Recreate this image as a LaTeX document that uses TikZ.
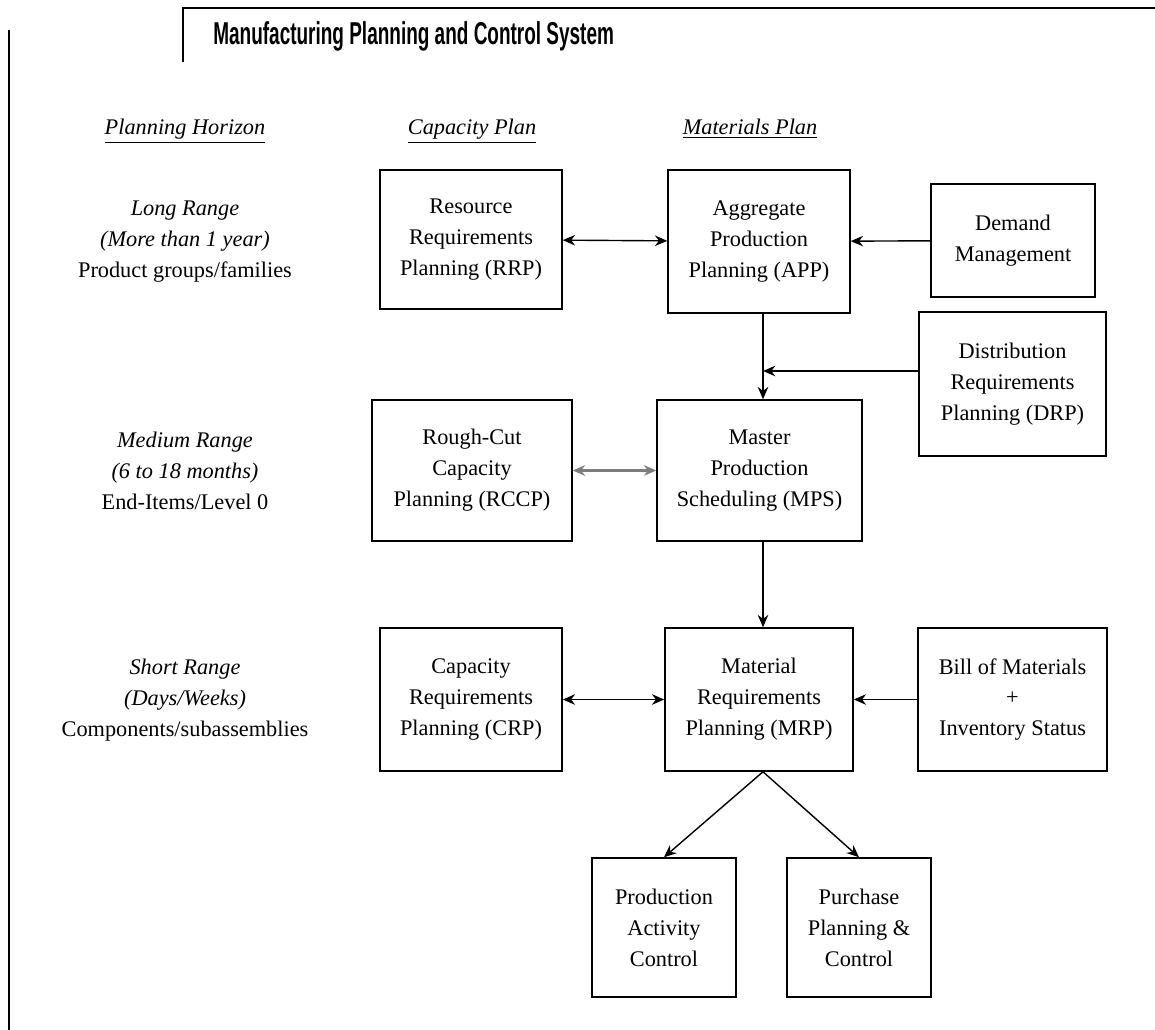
\documentclass[tikz,border=0pt]{standalone}
\usepackage{fontspec}
\setmainfont{Liberation Serif}
\setsansfont{Liberation Sans}
\usetikzlibrary{arrows, arrows.meta, positioning}
\definecolor{grisito}{RGB}{125,125,125}
\newcommand{\textoletra}{\fontsize{12.7}{17.6}\selectfont}
\tikzset{>={Stealth[length=7pt, width=6pt]}}
\tikzset{caja/.style={draw, line width=0.9pt, align=center, inner sep=1pt, font=\textoletra},
	horizonte/.style={align=center, font=\textoletra},
	flecha/.style={->, line width=0.8pt},
	dobleflecha/.style={<->, line width=0.8pt}}

\begin{document}
\begin{tikzpicture}[x=0.02cm, y=-0.02cm]

			\useasboundingbox (0,0) rectangle (1155,1030);

			% marco
			\draw [line width=1.2pt] (183,62) -- (183,8) -- (1155,8);
			\draw [line width=1.3pt] (9,30) -- (9,1030);
			\node [anchor=west, inner sep=0pt] (titulo) at (213,36)
				{\scalebox{0.6}[1]{\fontsize{18}{20}\sffamily\bfseries Manufacturing Planning and Control System}};

			% encabezados
			\node [horizonte, anchor=base] (hPlan) at (185,135) {\underline{\textit{Planning Horizon}}};
			\node [horizonte, anchor=base] (hCap) at (472,135) {\underline{\textit{Capacity Plan}}};
			\node [horizonte, anchor=base] (hMat) at (750,135) {\underline{\textit{Materials Plan}}};

			\node [horizonte] (largo) at (185,242) {\textit{Long Range}\\\textit{(More than 1 year)}\\Product groups/families};
			\node [horizonte] (medio) at (185,471) {\textit{Medium Range}\\\textit{(6 to 18 months)}\\End-Items/Level 0};
			\node [horizonte] (corto) at (185,700) {\textit{Short Range}\\\textit{(Days/Weeks)}\\Components/subassemblies};

			% cajas
			\node [caja, minimum width=3.64cm, minimum height=2.78cm] (rrp) at (471,239.5) {Resource\\Requirements\\Planning (RRP)};
			\node [caja, minimum width=3.64cm, minimum height=2.86cm] (app) at (759,241.5) {Aggregate\\Production\\Planning (APP)};
			\node [caja, minimum width=3.28cm, minimum height=2.26cm] (dem) at (1013,240.5) {Demand\\Management};
			\node [caja, minimum width=3.74cm, minimum height=2.88cm] (drp) at (1012.5,384) {Distribution\\Requirements\\Planning (DRP)};
			\node [caja, minimum width=4.0cm, minimum height=2.82cm] (rccp) at (472,470.5) {Rough-Cut\\Capacity\\Planning (RCCP)};
			\node [caja, minimum width=4.1cm, minimum height=2.82cm] (mps) at (759.5,470.5) {Master\\Production\\Scheduling (MPS)};
			\node [caja, minimum width=3.64cm, minimum height=2.86cm] (crp) at (471,699.5) {Capacity\\Requirements\\Planning (CRP)};
			\node [caja, minimum width=3.76cm, minimum height=2.86cm] (mrp) at (759,699.5) {Material\\Requirements\\Planning (MRP)};
			\node [caja, minimum width=3.78cm, minimum height=2.86cm] (bom) at (1012.5,699.5) {Bill of Materials\\+\\Inventory Status};
			\node [caja, minimum width=2.88cm, minimum height=2.78cm] (pac) at (664,927.5) {Production\\Activity\\Control};
			\node [caja, minimum width=2.88cm, minimum height=2.78cm] (ppc) at (859,927.5) {Purchase\\Planning \&\\Control};

			% flechas
			\coordinate (union) at (763,371);
			\draw [dobleflecha] (rrp) -- (app);
			\draw [flecha] (dem) -- (app);
			\draw [flecha] (app.south -| union) -- (mps.north -| union);
			\draw [flecha] (drp.west |- union) -- (union);
			\draw [dobleflecha, grisito, line width=1.5pt] (rccp) -- (mps);
			\draw [flecha] (mps.south -| union) -- (mrp.north -| union);
			\draw [dobleflecha] (crp) -- (mrp);
			\draw [flecha] (bom) -- (mrp);
			\draw [flecha] (mrp.south -| union) -- (pac.north);
			\draw [flecha] (mrp.south -| union) -- (ppc.north);

\end{tikzpicture}
\end{document}
